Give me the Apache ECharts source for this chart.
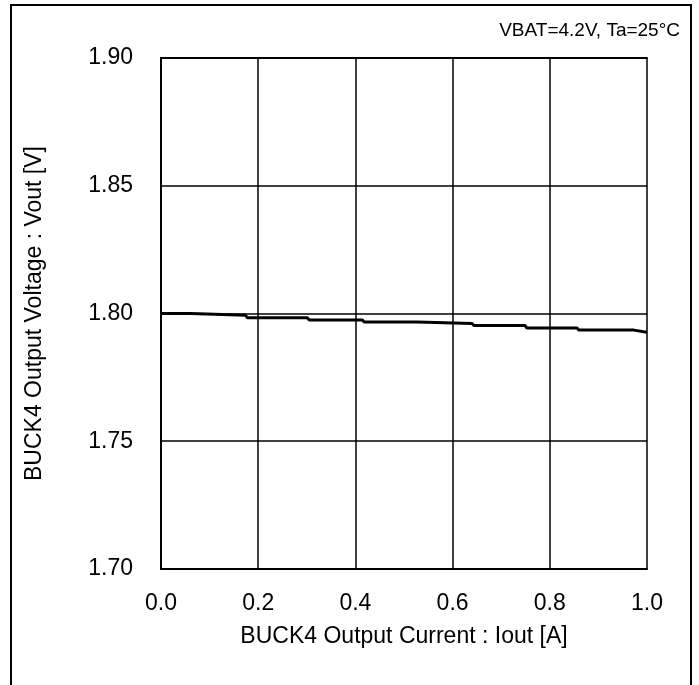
<!DOCTYPE html>
<html lang="en">
<head>
    <meta charset="UTF-8">
    <title>BUCK4 Vout vs Iout</title>
    <script src="https://cdn.jsdelivr.net/npm/echarts@6/dist/echarts.min.js"></script>
    <style>
        * { margin: 0; padding: 0; }
        body { background-color: #fff; }
        #box1 { width: 699px; height: 685px; }
    </style>
</head>
<body>
    <div id="box1"></div>
    <script>
        // output current [A] where the voltage steps, and the voltage held from there
        var iout = [0, 0.065, 0.178, 0.305, 0.418, 0.531, 0.644, 0.753, 0.86, 0.977, 1.0];
        var vout = [1.8000, 1.7993, 1.7983, 1.7975, 1.7967, 1.7961, 1.7953, 1.7943, 1.7935, 1.7928, 1.7928];
        var xTicks = [0, 0.2, 0.4, 0.6, 0.8, 1.0];
        var yTicks = [1.70, 1.75, 1.80, 1.85, 1.90];

        // each level is held until just before the next step
        var pts = [];
        for (var i = 0; i < iout.length - 1; i++) {
            pts.push([iout[i], vout[i]]);
            pts.push([iout[i + 1] - 0.004, vout[i]]);
        }
        pts.push([iout[iout.length - 1], vout[vout.length - 1]]);

        var font = 'Liberation Sans, Arial, sans-serif';
        var option = {
            animation: false,
            textStyle: { fontFamily: font },
            graphic: [
                {
                    type: 'rect',
                    shape: { x: 11, y: 5, width: 680, height: 700 },
                    style: { fill: 'none', stroke: '#000', lineWidth: 2 }
                },
                {
                    type: 'text',
                    right: 19, top: 21,
                    style: { text: 'VBAT=4.2V, Ta=25°C', fontSize: 19, fill: '#000', fontFamily: font }
                }
            ],
            grid: { left: 161, right: 52, top: 58, bottom: 116 },
            xAxis: [{
                type: 'value',
                min: 0, max: 1.0, interval: 0.2,
                name: 'BUCK4 Output Current : Iout [A]',
                nameLocation: 'middle',
                nameGap: 56,
                nameTextStyle: { fontSize: 23, color: '#000' },
                axisLine: { lineStyle: { color: '#000', width: 2 } },
                axisTick: { show: false },
                axisLabel: {
                    fontSize: 23, color: '#000', margin: 23,
                    formatter: function (v) { return v.toFixed(1); }
                },
                splitLine: { show: true, lineStyle: { color: '#000', width: 1.5 } }
            }, {
                type: 'value', position: 'top', min: 0, max: 1,
                axisLine: { lineStyle: { color: '#000', width: 2 } },
                axisTick: { show: false }, axisLabel: { show: false }, splitLine: { show: false }
            }],
            yAxis: [{
                type: 'value',
                min: 1.70, max: 1.90, interval: 0.05,
                name: 'BUCK4 Output Voltage : Vout [V]',
                nameLocation: 'middle',
                nameGap: 115,
                nameTextStyle: { fontSize: 23, color: '#000' },
                axisLine: { show: true, lineStyle: { color: '#000', width: 2 } },
                axisTick: { show: false },
                axisLabel: {
                    fontSize: 23, color: '#000', margin: 28,
                    formatter: function (v) { return v.toFixed(2); }
                },
                splitLine: { show: true, lineStyle: { color: '#000', width: 1.5 } }
            }, {
                type: 'value', position: 'right', min: 1.70, max: 1.90,
                axisLine: { show: true, lineStyle: { color: '#000', width: 2 } },
                axisTick: { show: false }, axisLabel: { show: false }, splitLine: { show: false }
            }],
            series: [{
                type: 'line',
                data: pts,
                showSymbol: false,
                lineStyle: { color: '#000', width: 3 }
            }]
        };
        echarts.init(document.querySelector('#box1')).setOption(option);
    </script>
</body>
</html>
